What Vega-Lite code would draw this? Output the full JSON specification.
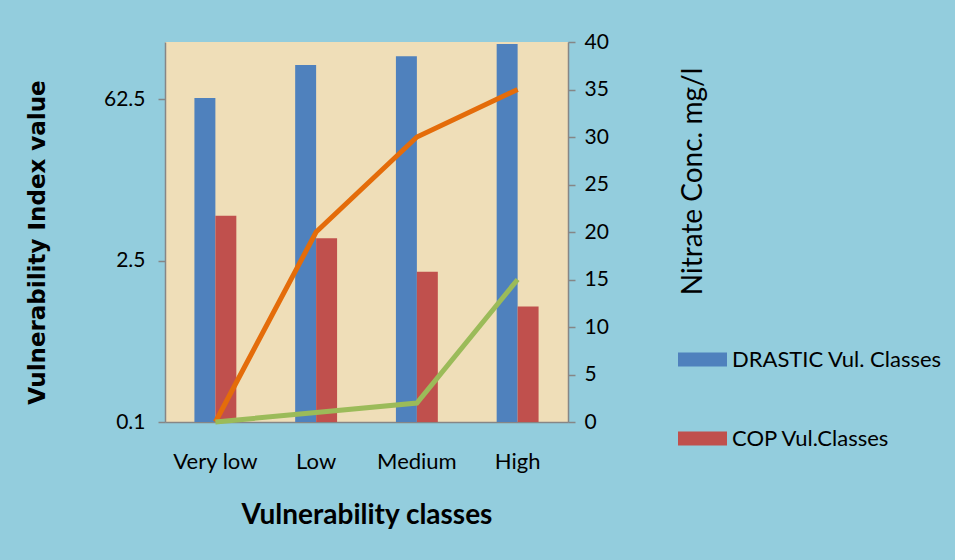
{
  "$schema": "https://vega.github.io/schema/vega-lite/v6.json",
  "width": 403,
  "height": 380,
  "autosize": {"type": "none"},
  "padding": {"left": 165, "top": 42, "right": 387, "bottom": 138},
  "background": "#93CDDD",
  "config": {
    "font": "Lato",
    "view": {"fill": "#EFDEB8", "stroke": null},
    "axis": {
      "grid": false,
      "domainColor": "#868686",
      "domainWidth": 1.5,
      "tickColor": "#868686",
      "tickWidth": 1.5,
      "labelColor": "#000000",
      "titleColor": "#000000",
      "labelFontSize": 21,
      "labelFont": "Lato",
      "titleFont": "Lato"
    }
  },
  "datasets": {
    "bars": [
      {"class": "Very low", "series": "DRASTIC Vul. Classes", "value": 64},
      {"class": "Low", "series": "DRASTIC Vul. Classes", "value": 123},
      {"class": "Medium", "series": "DRASTIC Vul. Classes", "value": 147},
      {"class": "High", "series": "DRASTIC Vul. Classes", "value": 187},
      {"class": "Very low", "series": "COP Vul.Classes", "value": 6.1},
      {"class": "Low", "series": "COP Vul.Classes", "value": 3.9},
      {"class": "Medium", "series": "COP Vul.Classes", "value": 2.0},
      {"class": "High", "series": "COP Vul.Classes", "value": 1.0}
    ],
    "lines": [
      {"class": "Very low", "series": "Nitrate 1", "nitrate": 0},
      {"class": "Low", "series": "Nitrate 1", "nitrate": 20},
      {"class": "Medium", "series": "Nitrate 1", "nitrate": 30},
      {"class": "High", "series": "Nitrate 1", "nitrate": 35},
      {"class": "Very low", "series": "Nitrate 2", "nitrate": 0},
      {"class": "Low", "series": "Nitrate 2", "nitrate": 1},
      {"class": "Medium", "series": "Nitrate 2", "nitrate": 2},
      {"class": "High", "series": "Nitrate 2", "nitrate": 15}
    ]
  },
  "layer": [
    {
      "data": {"name": "bars"},
      "mark": {"type": "bar"},
      "encoding": {
        "x": {
          "field": "class",
          "type": "nominal",
          "sort": ["Very low", "Low", "Medium", "High"],
          "scale": {"paddingInner": 0.584, "paddingOuter": 0.292},
          "title": "Vulnerability classes",
          "axis": {
            "labelAngle": 0,
            "ticks": false,
            "labelPadding": 29,
            "labelBaseline": "top",
            "labelFontSize": 22,
            "titleFontSize": 28,
            "titleFontWeight": "bold",
            "titleBaseline": "middle",
            "titleY": 93
          }
        },
        "xOffset": {
          "field": "series",
          "sort": ["DRASTIC Vul. Classes", "COP Vul.Classes"],
          "scale": {"paddingInner": 0, "paddingOuter": 0}
        },
        "y": {
          "field": "value",
          "type": "quantitative",
          "scale": {"type": "log", "domain": [0.1, 195]},
          "title": "Vulnerability Index value",
          "axis": {
            "values": [0.1, 2.5, 62.5],
            "format": "~g",
            "tickSize": 7,
            "labelPadding": 13,
            "titleFont": "DejaVu Sans",
            "titleFontSize": 23,
            "titleFontWeight": "bold",
            "titleAngle": 270,
            "titleBaseline": "middle",
            "titleAlign": "center",
            "titleX": -128,
            "titleY": 200
          }
        },
        "y2": {"datum": 0.1},
        "color": {
          "field": "series",
          "type": "nominal",
          "sort": ["DRASTIC Vul. Classes", "COP Vul.Classes"],
          "scale": {"domain": ["DRASTIC Vul. Classes", "COP Vul.Classes"], "range": ["#4F81BD", "#C0504D"]},
          "legend": {
            "title": null,
            "orient": "none",
            "legendX": 513,
            "legendY": 293,
            "symbolType": "M-1,-0.286L1,-0.286L1,0.286L-1,0.286Z",
            "symbolSize": 2401,
            "symbolStrokeWidth": 0,
            "labelFontSize": 22,
            "labelColor": "#000000",
            "labelOffset": 5,
            "labelLimit": 400,
            "rowPadding": 43
          }
        }
      }
    },
    {
      "data": {"name": "lines"},
      "mark": {"type": "line", "strokeWidth": 5},
      "encoding": {
        "x": {"field": "class", "type": "nominal", "sort": ["Very low", "Low", "Medium", "High"]},
        "y": {
          "field": "nitrate",
          "type": "quantitative",
          "scale": {"domain": [0, 40]},
          "title": "Nitrate Conc. mg/l",
          "axis": {
            "orient": "right",
            "values": [0, 5, 10, 15, 20, 25, 30, 35, 40],
            "tickSize": 7,
            "labelPadding": 9,
            "titleFontSize": 28,
            "titleFontWeight": "normal",
            "titleAngle": 270,
            "titleBaseline": "middle",
            "titleAlign": "center",
            "titleX": 125,
            "titleY": 139
          }
        },
        "color": {
          "field": "series",
          "type": "nominal",
          "scale": {"domain": ["Nitrate 1", "Nitrate 2"], "range": ["#E46C0A", "#9BBB59"]},
          "legend": null
        }
      }
    }
  ],
  "resolve": {"scale": {"y": "independent", "color": "independent"}}
}
